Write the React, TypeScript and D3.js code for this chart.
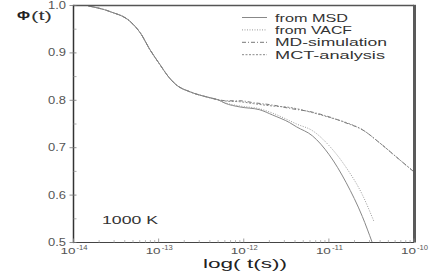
import React from "react";
import * as d3 from "d3";

const W = 436;
const H = 273;

// shared early part (time in s, Phi)
const commonT = [1.5e-14, 2.7e-14, 4.65e-14, 6.1e-14, 7.96e-14, 1.04e-13, 1.25e-13, 1.6e-13, 2.33e-13, 3.69e-13, 5.0e-13];
const commonPhi = [0.999, 0.987, 0.966, 0.942, 0.906, 0.875, 0.854, 0.833, 0.818, 0.807, 0.801];

const msdT = [5.0e-13, 6.0e-13, 9.0e-13, 1.54e-12, 2.18e-12, 3.45e-12, 4.17e-12, 6.41e-12, 1.01e-11, 1.6e-11, 2.47e-11, 3.23e-11];
const msdPhi = [0.801, 0.794, 0.786, 0.780, 0.769, 0.753, 0.744, 0.725, 0.685, 0.626, 0.555, 0.5];

const vacfT = [5.0e-13, 6.0e-13, 9.0e-13, 1.54e-12, 2.18e-12, 3.45e-12, 4.17e-12, 6.41e-12, 1.01e-11, 1.6e-11, 2.47e-11, 3.39e-11];
const vacfPhi = [0.801, 0.795, 0.788, 0.782, 0.773, 0.757, 0.750, 0.736, 0.704, 0.658, 0.601, 0.544];

const mdT = [5.0e-13, 6.5e-13, 9.0e-13, 1.3e-12, 2.18e-12, 3.45e-12, 6.41e-12, 1.01e-11, 1.6e-11, 2.47e-11, 3.9e-11, 6.15e-11, 1e-10];
const mdPhi = [0.801, 0.799, 0.799, 0.795, 0.790, 0.783, 0.775, 0.765, 0.752, 0.738, 0.711, 0.681, 0.649];

const mctT = [5.0e-13, 6.5e-13, 9.0e-13, 1.3e-12, 2.18e-12, 3.45e-12, 6.41e-12, 1.01e-11, 1.6e-11, 2.47e-11, 3.9e-11, 6.15e-11, 1e-10];
const mctPhi = [0.801, 0.798, 0.797, 0.793, 0.788, 0.785, 0.774, 0.764, 0.753, 0.738, 0.711, 0.681, 0.649];

const yTicks = [0.5, 0.6, 0.7, 0.8, 0.9, 1.0];
const yMinor = [0.55, 0.65, 0.75, 0.85, 0.95];
const xTickExps = [-14, -13, -12, -11, -10];

const legendLabels = ["from MSD", "from VACF", "MD-simulation", "MCT-analysis"];
const legendWidths = [73, 77, 112, 110];
const legendDash = ["", "1,1.5", "4,2,1,2", "2,1.5"];
const legendColor = ["#888", "#999", "#777", "#888"];

const FONT = "'Liberation Sans', Arial, Helvetica, sans-serif";

export default function App() {
  const x = d3.scaleLog().domain([1e-14, 1e-10]).range([73.5, 414]);
  const y = d3.scaleLinear().domain([0.5, 1.0]).range([242.5, 5.5]);

  const line = d3
    .line<[number, number]>()
    .x((d) => x(d[0]))
    .y((d) => y(d[1]))
    .curve(d3.curveMonotoneX);

  const build = (t: number[], p: number[]) => {
    const pts: [number, number][] = commonT.map((tt, i) => [tt, commonPhi[i]]);
    t.forEach((tt, i) => {
      if (i === 0) return;
      pts.push([tt, p[i]]);
    });
    return pts;
  };

  const series = [
    { pts: build(msdT, msdPhi), dash: legendDash[0], color: legendColor[0] },
    { pts: build(vacfT, vacfPhi), dash: legendDash[1], color: legendColor[1] },
    { pts: build(mdT, mdPhi), dash: legendDash[2], color: legendColor[2] },
    { pts: build(mctT, mctPhi), dash: legendDash[3], color: legendColor[3] },
  ];

  const minorX: number[] = [];
  for (let e = -14; e < -10; e++) {
    for (let k = 2; k <= 9; k++) minorX.push(k * Math.pow(10, e));
  }

  const [x0, x1] = x.range();
  const [yb, yt] = y.range();

  return (
    <svg
      width={W}
      height={H}
      style={{ position: "absolute", left: 0, top: 0, background: "#fff" }}
      fontFamily={FONT}
    >
      <rect x={0} y={0} width={W} height={H} fill="#fff" />
      {/* curves */}
      {series.map((s, i) => (
        <path
          key={i}
          d={line(s.pts) || ""}
          fill="none"
          stroke={s.color}
          strokeWidth={1}
          strokeDasharray={s.dash || undefined}
        />
      ))}
      {/* frame */}
      <line x1={x0} x2={x1} y1={yt} y2={yt} stroke="#555" strokeWidth={1.5} />
      <line x1={x1 + 0.5} x2={x1 + 0.5} y1={yt - 0.7} y2={yb} stroke="#5a5a5a" strokeWidth={3} />
      <line x1={x0} x2={x1} y1={yb} y2={yb} stroke="#444" strokeWidth={1.2} />
      <line x1={x0} x2={x0} y1={yt - 0.7} y2={yb + 0.6} stroke="#333" strokeWidth={1.5} />
      {/* y ticks */}
      {yTicks.map((v) => (
        <g key={v}>
          <line x1={x0 - 4} x2={x0 + 3} y1={y(v)} y2={y(v)} stroke="#777" strokeWidth={0.8} />
          <text
            x={48}
            y={y(v) + 3.5}
            fontSize={10}
            fill="#555"
            textLength={18}
            lengthAdjust="spacingAndGlyphs"
          >
            {v.toFixed(1)}
          </text>
        </g>
      ))}
      {yMinor.map((v) => (
        <line key={v} x1={x0} x2={x0 + 3} y1={y(v)} y2={y(v)} stroke="#999" strokeWidth={0.8} />
      ))}
      {/* x ticks */}
      {minorX.map((v, i) => (
        <line key={i} x1={x(v)} x2={x(v)} y1={yb} y2={yb - 2.5} stroke="#aaa" strokeWidth={0.8} />
      ))}
      {xTickExps.map((e) => {
        const cx = x(Math.pow(10, e));
        return (
          <g key={e}>
            <line x1={cx} x2={cx} y1={yb} y2={yb - 4} stroke="#888" strokeWidth={0.8} />
            <text x={cx - 13} y={253.5} fontSize={9} fill="#555" textLength={15} lengthAdjust="spacingAndGlyphs">
              10
            </text>
            <text x={cx + 3} y={249.5} fontSize={6.5} fill="#555" textLength={11} lengthAdjust="spacingAndGlyphs">
              {String(e)}
            </text>
          </g>
        );
      })}
      {/* axis labels */}
      <text x={17} y={20} fontSize={13} fill="#222" fontWeight="bold" textLength={13} lengthAdjust="spacingAndGlyphs">
        Φ
      </text>
      <text x={31} y={20} fontSize={12.5} fill="#333" textLength={21} lengthAdjust="spacingAndGlyphs">
        (t)
      </text>
      <text x={203} y={267.5} fontSize={13} fill="#222" textLength={84} lengthAdjust="spacingAndGlyphs">
        log( t(s))
      </text>
      <text x={102} y={224} fontSize={10.5} fill="#333" textLength={56} lengthAdjust="spacingAndGlyphs">
        1000 K
      </text>
      {/* legend */}
      {legendLabels.map((l, i) => (
        <g key={l}>
          <line
            x1={242}
            x2={267}
            y1={17.5 + i * 12.4}
            y2={17.5 + i * 12.4}
            stroke={legendColor[i]}
            strokeWidth={1}
            strokeDasharray={legendDash[i] || undefined}
          />
          <text
            x={275}
            y={21.5 + i * 12.4}
            fontSize={10.5}
            fill="#333"
            textLength={legendWidths[i]}
            lengthAdjust="spacingAndGlyphs"
          >
            {l}
          </text>
        </g>
      ))}
    </svg>
  );
}
